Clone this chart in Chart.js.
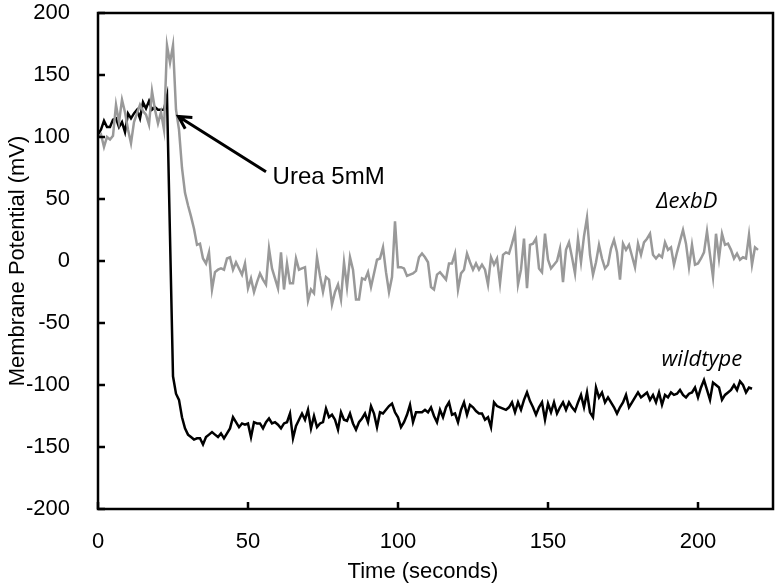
<!DOCTYPE html>
<html>
<head>
<meta charset="utf-8">
<script src="https://cdn.jsdelivr.net/npm/chart.js@4.4.1/dist/chart.umd.min.js"></script>
<style>
  html, body { margin: 0; padding: 0; background: #fff; }
  #wrap { width: 781px; height: 588px; }
</style>
</head>
<body>
<div id="wrap"><canvas id="potentialChart" width="781" height="588"></canvas></div>
<script>
// membrane potential (mV), one reading per second from t = 0
const exbD = [
  100, 102, 92, 100, 98, 101, 126, 112, 130, 120,
  106, 95, 112, 119, 126, 121, 118, 110, 137, 122,
  111, 120, 106, 174, 160, 174, 122, 106, 75, 55,
  45, 36, 26, 13, 14, 2, -2, 7, -23, -9,
  -7, -6, -7, 2, 3, -7, -1, -6, -11, -2,
  -22, -14, -25, -17, -10, -15, -19, 10, -6, -14,
  -22, 7, -23, -2, -18, -18, 2, -7, -6, -5,
  -32, -23, -26, 3, -12, -25, -13, -15, -35, -25,
  -19, -31, -1, -21, 3, -7, -31, -31, -14, -15,
  -9, -21, -10, 1, 2, 11, -9, -25, -13, 32,
  -5, -5, -6, -12, -11, -10, -8, 3, 6, 3,
  -1, -21, -23, -11, -9, -12, -15, -2, -2, 6,
  -23, -10, -7, 6, -1, -7, -2, -7, -3, -7,
  -19, 3, -3, 2, -18, 5, 7, 6, 14, 23,
  -19, -7, 18, -22, 13, 14, 18, -6, -9, 22,
  1, -6, -3, 0, 10, -17, 9, 15, 3, -10,
  18, -1, 20, 35, 5, -11, -1, 13, 2, -6,
  -3, 10, 17, 7, -15, 14, 9, 13, 4, -5,
  14, 5, 15, 18, 22, 5, 2, 5, 3, 15,
  9, 11, -3, 7, 16, 25, 14, -5, 13, -3,
  -2, 2, 7, 24, 5, -13, 22, 2, 22, 13,
  14, 9, 2, 6, 1, 3, 2, 21, -3, 11, 9
];

const wildtype = [
  102, 106, 113, 108, 108, 114, 115, 108, 112, 104,
  119, 115, 119, 122, 115, 128, 123, 129, 122, 124,
  122, 122, 122, 133, 20, -93, -107, -112, -126, -135,
  -140, -142, -144, -143, -143, -148, -142, -140, -138, -140,
  -142, -139, -143, -139, -135, -126, -130, -134, -131, -132,
  -131, -142, -130, -131, -131, -135, -130, -127, -131, -130,
  -132, -135, -131, -130, -123, -143, -133, -128, -123, -128,
  -120, -135, -125, -134, -131, -130, -119, -126, -124, -128,
  -136, -122, -128, -129, -123, -131, -136, -130, -127, -123,
  -130, -117, -123, -134, -122, -123, -120, -117, -115, -122,
  -126, -134, -130, -124, -116, -130, -122, -122, -122, -120,
  -122, -118, -125, -130, -120, -126, -118, -114, -124, -123,
  -130, -120, -114, -124, -116, -118, -121, -123, -123, -128,
  -126, -134, -114, -117, -118, -119, -120, -118, -114, -122,
  -114, -120, -112, -106, -113, -118, -124, -118, -114, -128,
  -115, -122, -114, -123, -118, -114, -120, -114, -118, -121,
  -114, -108, -118, -106, -122, -126, -102, -110, -106, -114,
  -110, -114, -118, -123, -118, -114, -108, -118, -114, -110,
  -106, -110, -108, -106, -112, -108, -114, -106, -116, -108,
  -110, -106, -108, -107, -104, -108, -110, -107, -106, -102,
  -110, -102, -96, -104, -112, -98, -100, -102, -112, -108,
  -106, -104, -100, -104, -97, -100, -106, -102, -103
];

const xTicks = [0, 50, 100, 150, 200];
const yTicks = [-200, -150, -100, -50, 0, 50, 100, 150, 200];

const toPoints = arr => arr.map((v, i) => ({ x: i, y: v }));

const axisFont = { family: "'Liberation Sans', Arial, sans-serif", size: 22 };

// annotations, tick marks and frame drawn over the plot
const overlay = {
    id: 'overlay',
    afterDraw(chart) {
        const { ctx, chartArea: a, scales: { x, y } } = chart;
        ctx.save();
        ctx.strokeStyle = '#000';
        ctx.lineWidth = 2.5;

        ctx.beginPath();
        xTicks.forEach(v => {
            const px = x.getPixelForValue(v);
            ctx.moveTo(px, a.bottom);
            ctx.lineTo(px, a.bottom - 7);
        });
        yTicks.forEach(v => {
            const py = y.getPixelForValue(v);
            ctx.moveTo(a.left, py);
            ctx.lineTo(a.left + 7, py);
        });
        ctx.stroke();
        ctx.strokeRect(a.left, a.top, a.right - a.left, a.bottom - a.top);

        // arrow to the urea addition
        const tipX = x.getPixelForValue(26.8), tipY = y.getPixelForValue(116.5);
        const tailX = x.getPixelForValue(56), tailY = y.getPixelForValue(72);
        const ang = Math.atan2(tailY - tipY, tailX - tipX);
        ctx.lineWidth = 3;
        ctx.beginPath();
        ctx.moveTo(tailX, tailY);
        ctx.lineTo(tipX, tipY);
        ctx.moveTo(tipX + 14 * Math.cos(ang - 0.5), tipY + 14 * Math.sin(ang - 0.5));
        ctx.lineTo(tipX, tipY);
        ctx.lineTo(tipX + 14 * Math.cos(ang + 0.5), tipY + 14 * Math.sin(ang + 0.5));
        ctx.stroke();

        ctx.fillStyle = '#000';
        ctx.font = "24px 'Liberation Sans', Arial, sans-serif";
        ctx.textAlign = 'left';
        ctx.textBaseline = 'middle';
        ctx.fillText('Urea 5mM', x.getPixelForValue(58.2), y.getPixelForValue(67.5));

        ctx.font = "italic 22px 'Open Sans', 'Noto Sans', sans-serif";
        ctx.textAlign = 'center';
        ctx.textBaseline = 'alphabetic';
        ctx.fillText('\u0394exbD', x.getPixelForValue(196.3), y.getPixelForValue(42.7));
        ctx.fillText('wildtype', x.getPixelForValue(201.3), y.getPixelForValue(-84.7));

        ctx.font = "22px 'Liberation Sans', Arial, sans-serif";
        ctx.textBaseline = 'middle';
        ctx.fillText('Time (seconds)', 423, 572);
        ctx.restore();
    }
};

const ctx = document.getElementById('potentialChart').getContext('2d');
const potentialChart = new Chart(ctx, {
    type: 'line',
    data: {
        datasets: [{
            label: 'ΔexbD',
            data: toPoints(exbD),
            borderColor: '#999999',
            borderWidth: 2.5,
            pointRadius: 0,
            tension: 0
        }, {
            label: 'wildtype',
            data: toPoints(wildtype),
            borderColor: '#000000',
            borderWidth: 2.5,
            pointRadius: 0,
            tension: 0
        }]
    },
    options: {
        responsive: false,
        animation: false,
        devicePixelRatio: 1,
        layout: { padding: { left: 0, right: 8, top: 13, bottom: 0 } },
        plugins: {
            legend: { display: false },
            tooltip: { enabled: false }
        },
        scales: {
            x: {
                type: 'linear',
                min: 0,
                max: 225,
                grid: { display: false },
                border: { display: false },
                ticks: {
                    stepSize: 50,
                    includeBounds: false,
                    padding: 12,
                    color: '#000',
                    font: axisFont,
                    maxRotation: 0
                },
                afterFit(scale) {
                    scale.height = 79;
                    scale.paddingLeft = 0;
                    scale.paddingRight = 0;
                }
            },
            y: {
                min: -200,
                max: 200,
                grid: { display: false },
                border: { display: false },
                ticks: {
                    stepSize: 50,
                    padding: 20,
                    color: '#000',
                    font: axisFont
                },
                title: {
                    display: true,
                    text: 'Membrane Potential (mV)',
                    color: '#000',
                    font: axisFont,
                    padding: { top: 5, bottom: 0 }
                },
                afterFit(scale) {
                    scale.width = 98;
                    scale.paddingTop = 0;
                    scale.paddingBottom = 0;
                }
            }
        }
    },
    plugins: [overlay]
});
</script>
</body>
</html>
